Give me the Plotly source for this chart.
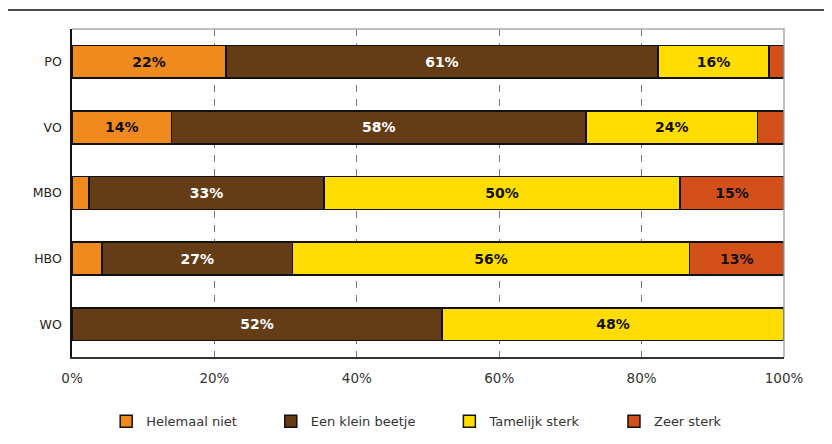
import plotly.graph_objects as go

categories = ["PO", "VO", "MBO", "HBO", "WO"]
series_names = ["Helemaal niet", "Een klein beetje", "Tamelijk sterk", "Zeer sterk"]
helemaal_niet = [21.6, 14.0, 2.4, 4.2, 0.0]
een_klein_beetje = [60.7, 58.2, 33.0, 26.8, 52.0]
tamelijk_sterk = [15.6, 24.1, 50.0, 55.7, 48.0]
zeer_sterk = [2.1, 3.7, 14.6, 13.3, 0.0]
x_tick_vals = [0, 20, 40, 60, 80, 100]
x_tick_text = ["0%", "20%", "40%", "60%", "80%", "100%"]

colors = ["#F0891E", "#643D17", "#FFDD00", "#D4501A"]
text_colors = ["#111111", "#FFFFFF", "#111111", "#111111"]
all_series = [helemaal_niet, een_klein_beetje, tamelijk_sterk, zeer_sterk]

pad = "\u00a0" * 7

fig = go.Figure()
for name, vals, col, tcol in zip(series_names, all_series, colors, text_colors):
    labels = [f"{round(v)}%" if v >= 8 else "" for v in vals]
    fig.add_trace(go.Bar(
        y=categories, x=vals, name=name + pad, orientation="h",
        marker=dict(color=col, line=dict(color="#111111", width=1.5)),
        text=labels, textposition="inside", insidetextanchor="middle",
        textangle=0, constraintext="none",
        textfont=dict(family="DejaVu Sans", size=14, color=tcol, weight="bold"),
        hoverinfo="skip",
    ))

fig.update_layout(
    barmode="stack", bargap=0.5,
    width=824, height=436,
    margin=dict(l=64, r=48, t=21, b=87, autoexpand=False),
    paper_bgcolor="white", plot_bgcolor="white",
    font=dict(family="DejaVu Sans", size=12, color="#333333"),
    xaxis=dict(range=[0, 100], tickvals=x_tick_vals, ticktext=x_tick_text,
               showgrid=True, gridcolor="#777777", griddash="7px,7px", gridwidth=1,
               showline=True, linecolor="#333333", linewidth=1.5, ticks="",
               zeroline=False, ticklabelstandoff=8, automargin=False,
               tickfont=dict(family="DejaVu Sans", size=13.5, color="#333333")),
    yaxis=dict(autorange="reversed", showgrid=False, showline=True,
               linecolor="#111111", linewidth=1.5, ticks="", ticklabelstandoff=6,
               automargin=False,
               tickfont=dict(family="DejaVu Sans", size=12.5, color="#222222")),
    legend=dict(orientation="h", x=0.048, xanchor="left", y=-0.150, yanchor="top",
                font=dict(family="DejaVu Sans", size=13, color="#333333"),
                traceorder="normal", itemwidth=30),
    showlegend=True,
    shapes=[
        dict(type="line", xref="paper", yref="paper", x0=-64/712, x1=760/712, y0=1+19/328, y1=1+19/328,
             line=dict(color="#111111", width=1.5)),
        dict(type="path", xref="paper", yref="paper", path="M 0,1 L 1,1 L 1,0",
             line=dict(color="#AAAAAA", width=1.5)),
    ],
)

fig.write_html("out.html")
